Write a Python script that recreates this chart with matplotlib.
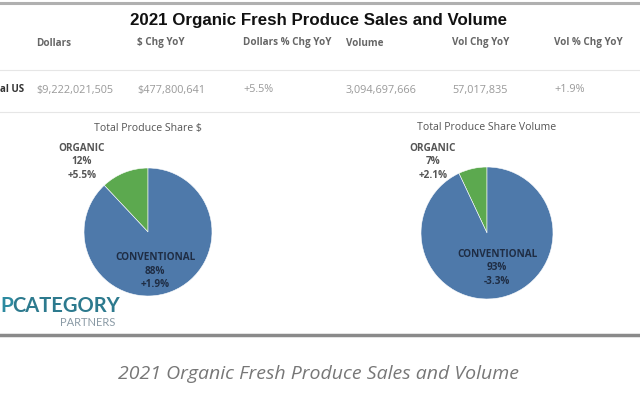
import matplotlib
matplotlib.use("Agg")
import matplotlib.pyplot as plt

TITLE = "2021 Organic Fresh Produce Sales and Volume"
HEADERS = ["Dollars", "$ Chg YoY", "Dollars % Chg YoY", "Volume", "Vol Chg YoY", "Vol % Chg YoY"]
ROW_LABEL = "al US"
ROW_VALUES = ["$9,222,021,505", "$477,800,641", "+5.5%", "3,094,697,666", "57,017,835", "+1.9%"]

SEGMENTS = ["ORGANIC", "CONVENTIONAL"]
DOLLAR_SHARE = [12, 88]
DOLLAR_CHG = ["+5.5%", "+1.9%"]
VOLUME_SHARE = [7, 93]
VOLUME_CHG = ["+2.1%", "-3.3%"]

W, H = 640, 400
BLUE = "#4e79aa"
GREEN = "#5ca94f"
COL_X = [36, 137, 243, 346, 452, 554]


def fx(x):
    return x / W


def fy(y):
    return 1 - y / H


def main():
    fig = plt.figure(figsize=(6.4, 4.0), dpi=100)
    fig.patch.set_facecolor("white")

    # frame lines
    fig.add_artist(plt.Line2D([0, 1], [fy(3), fy(3)], color="#b0b0b0", lw=2.2))
    fig.add_artist(plt.Line2D([0, 1], [fy(335), fy(335)], color="#8a8a8a", lw=2.5))
    fig.add_artist(plt.Line2D([0, 1], [fy(70), fy(70)], color="#e6e6e6", lw=0.8))
    fig.add_artist(plt.Line2D([0, 1], [fy(112), fy(112)], color="#e6e6e6", lw=0.8))

    fig.text(fx(318), fy(21), TITLE, ha="center", va="center", fontsize=12.2,
             fontweight="bold", family="Liberation Sans", color="#111111")

    for x, h in zip(COL_X, HEADERS):
        fig.text(fx(x), fy(43), h, ha="left", va="center", fontsize=7.1,
                 fontweight="bold", family="Open Sans", color="#666666")
    fig.text(fx(0), fy(90), ROW_LABEL, ha="left", va="center", fontsize=7,
             fontweight="bold", family="Open Sans", color="#333333")
    for x, v in zip(COL_X, ROW_VALUES):
        fig.text(fx(x), fy(90), v, ha="left", va="center", fontsize=7.8,
                 family="Open Sans", color="#999999")

    draw_pie(fig, 148, 232, 64, DOLLAR_SHARE, DOLLAR_CHG, "Total Produce Share $",
             (82, 162), (155, 271))
    draw_pie(fig, 487, 233, 66, VOLUME_SHARE, VOLUME_CHG, "Total Produce Share Volume",
             (433, 162), (497, 268))

    # logo
    fig.text(fx(0), fy(306), "P", ha="left", va="center", fontsize=15,
             fontweight="bold", family="Lato", color="#2d8aa0")
    fig.text(fx(12), fy(306), "CATEGORY", ha="left", va="center", fontsize=14.5,
             fontweight="bold", family="Lato", color="#2d7a8e")
    fig.text(fx(60), fy(323), "PARTNERS", ha="left", va="center", fontsize=8,
             family="Lato", color="#8a9aa5")

    fig.text(fx(318), fy(374), TITLE, ha="center", va="center", fontsize=14,
             style="italic", family="Open Sans", color="#777777")

    fig.savefig("out.png", dpi=100, facecolor="white")


def draw_pie(fig, cx, cy, r, shares, changes, title, org_pos, conv_pos):
    ax = fig.add_axes([fx(cx - r), fy(cy + r), 2 * r / W, 2 * r / H])
    ax.pie(shares, colors=[GREEN, BLUE], startangle=90, counterclock=True,
           wedgeprops=dict(edgecolor="white", linewidth=0.4))
    ax.set_xlim(-1, 1)
    ax.set_ylim(-1, 1)
    ax.set_aspect("equal")
    ax.axis("off")
    fig.text(fx(cx), fy(128), title, ha="center", va="center", fontsize=7.6,
             family="Open Sans", color="#555555")
    for pos, name, share, chg, col in zip([org_pos, conv_pos], SEGMENTS, shares,
                                          changes, ["#555555", "#1f2d44"]):
        fig.text(fx(pos[0]), fy(pos[1]), f"{name}\n{share}%\n{chg}", ha="center",
                 va="center", fontsize=7.2, fontweight="bold", family="Open Sans",
                 color=col, linespacing=1.35)


if __name__ == "__main__":
    main()
